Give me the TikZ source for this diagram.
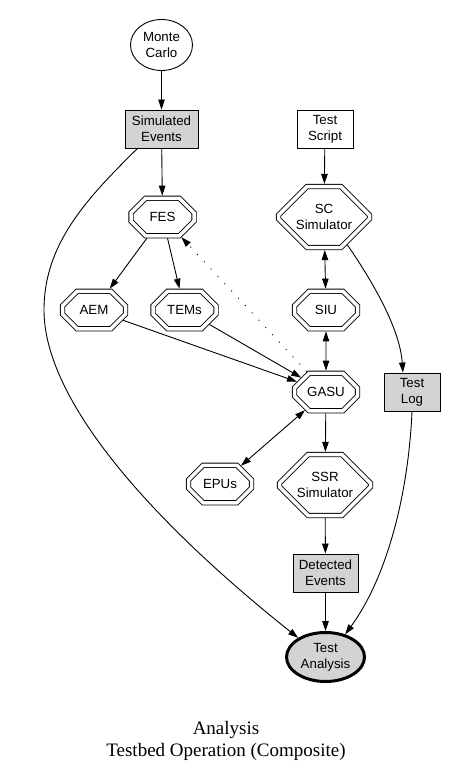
\documentclass[tikz,border=0pt]{standalone}
\usepackage{fontspec}
\setmainfont{Liberation Serif}
\setsansfont{Liberation Sans}
\usetikzlibrary{arrows.meta, shapes.geometric, shapes.misc}

\definecolor{boxgray}{HTML}{D3D3D3}

\begin{document}
\begin{tikzpicture}[
    x=1pt, y=-1pt,
    >={Triangle[length=10pt,width=6.5pt]},
    every node/.style={
        font=\sffamily\fontsize{13.3}{16}\selectfont,
        align=center,
        inner sep=0pt
    },
    store/.style={draw, line width=0.9pt, minimum height=38pt},
    data/.style={store, fill=boxgray},
    unit/.style={
        draw,
        line width=0.9pt,
        double,
        double distance=3.5pt,
        chamfered rectangle,
        chamfered rectangle xsep=13pt,
        chamfered rectangle ysep=10pt,
        minimum width=63pt,
        minimum height=37.5pt,
        outer sep=2.6pt
    },
    bigunit/.style={
        unit,
        chamfered rectangle xsep=19pt,
        chamfered rectangle ysep=16pt,
        minimum width=91pt,
        minimum height=61pt
    },
    flow/.style={->, line width=0.9pt},
    both/.style={<->, line width=0.9pt}
]
\useasboundingbox (0,0) rectangle (448,773);

\node[draw, ellipse, line width=0.9pt, minimum width=62pt, minimum height=51pt] (mc) at (161.5,45) {Monte\\Carlo};
\node[data, minimum width=73pt] (sim) at (161.5,129) {Simulated\\Events};
\node[store, minimum width=56pt] (script) at (325,129) {Test\\Script};
\node[unit] (fes) at (162.5,217) {FES};
\node[bigunit] (scsim) at (324,217) {SC\\Simulator};
\node[unit] (aem) at (94,310) {AEM};
\node[unit] (tems) at (184.5,310) {TEMs};
\node[unit] (siu) at (326,310) {SIU};
\node[unit] (gasu) at (326,392) {GASU};
\node[data, minimum width=56pt] (log) at (412,392) {Test\\Log};
\node[unit] (epus) at (220,484) {EPUs};
\node[bigunit] (ssr) at (325,485) {SSR\\Simulator};
\node[data, minimum width=65pt] (det) at (325.5,573) {Detected\\Events};
\node[draw, ellipse, line width=3pt, fill=boxgray, minimum width=78pt, minimum height=49pt] (ta) at (325.5,657) {Test\\Analysis};

\node[font=\rmfamily\fontsize{19}{22}\selectfont] (caption) at (226,741) {Analysis\\Testbed Operation (Composite)};

\draw[flow] (mc) -- (sim);
\draw[flow] (sim) -- (fes);
\draw[flow] (script) -- (scsim);
\draw[flow] (fes) -- (aem);
\draw[flow] (fes) -- (tems);
\draw[both] (scsim) -- (siu);
\draw[both] (siu) -- (gasu);
\draw[flow] (aem) -- (gasu);
\draw[flow] (tems) -- (gasu);
\draw[flow, dash pattern=on 1pt off 9pt] (gasu) -- (fes);
\draw[both] (gasu) -- (epus);
\draw[flow] (gasu) -- (ssr);
\draw[flow] (ssr) -- (det);
\draw[flow] (det) -- (ta);
\draw[flow] (scsim.-50) .. controls (375,285) and (400,330) .. (log.115);
\draw[flow] (log.south) .. controls (408,500) and (385,580) .. (ta.49);
\draw[flow] (sim.-141) .. controls (85,200) and (44,245) .. (44,310)
    .. controls (44,400) and (150,520) .. (ta.145);
\end{tikzpicture}
\end{document}
